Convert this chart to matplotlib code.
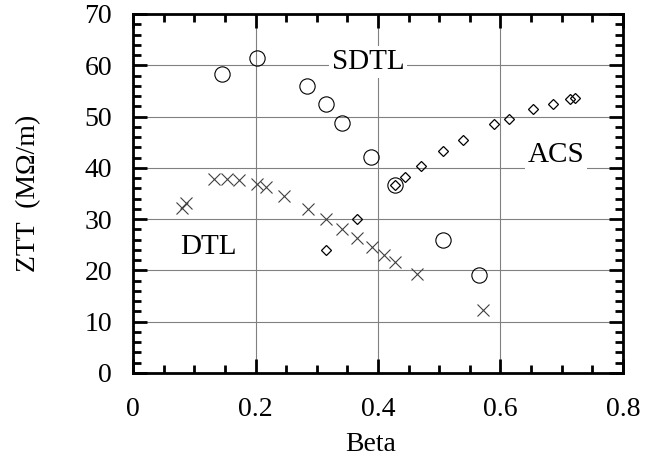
import matplotlib

matplotlib.use("Agg")
import matplotlib.pyplot as plt
from matplotlib.ticker import MultipleLocator

# SDTL (circles)
sdtl_beta = [0.146, 0.203, 0.284, 0.315, 0.341, 0.388, 0.428, 0.506, 0.565]
sdtl_ztt = [58.3, 61.5, 55.9, 52.4, 48.7, 42.2, 36.6, 25.9, 19.1]

# DTL (crosses)
dtl_beta = [0.080, 0.086, 0.133, 0.153, 0.173, 0.202, 0.217, 0.247, 0.286,
            0.315, 0.341, 0.365, 0.390, 0.409, 0.428, 0.463, 0.571]
dtl_ztt = [32.2, 33.2, 37.8, 37.9, 37.7, 36.8, 36.2, 34.5, 31.9,
           30.0, 28.1, 26.3, 24.6, 23.0, 21.7, 19.4, 12.3]

# ACS (diamonds)
acs_beta = [0.315, 0.365, 0.428, 0.444, 0.470, 0.506, 0.538, 0.590,
            0.614, 0.653, 0.685, 0.714, 0.722]
acs_ztt = [24.0, 30.0, 36.6, 38.3, 40.4, 43.3, 45.4, 48.5,
           49.6, 51.4, 52.4, 53.4, 53.7]

x_ticks = [0, 0.2, 0.4, 0.6, 0.8]
x_ticklabels = ["0", "0.2", "0.4", "0.6", "0.8"]

plt.rcParams["font.family"] = ["Liberation Serif", "DejaVu Serif"]

fig = plt.figure(figsize=(6.64, 4.61), dpi=100)
ax = fig.add_axes([133 / 664, 1 - 373 / 461, 490 / 664, 359 / 461])

ax.plot(dtl_beta, dtl_ztt, ls="none", marker="x", ms=8.5, mew=0.8,
        color="#404040", zorder=3)
ax.plot(acs_beta, acs_ztt, ls="none", marker="D", ms=5.5, mew=0.9,
        mfc="none", mec="black", zorder=3)
ax.plot(sdtl_beta, sdtl_ztt, ls="none", marker="o", ms=11, mew=0.8,
        mfc="none", mec="black", zorder=3)

ax.set_xlim(0, 0.8)
ax.set_ylim(0, 70)
ax.set_xticks(x_ticks)
ax.set_xticklabels(x_ticklabels)
ax.xaxis.set_minor_locator(MultipleLocator(0.05))
ax.yaxis.set_major_locator(MultipleLocator(10))
ax.yaxis.set_minor_locator(MultipleLocator(2))

ax.grid(True, which="major", color="#808080", lw=0.8, zorder=0)
ax.set_axisbelow(True)
for sp in ax.spines.values():
    sp.set_linewidth(2.0)
ax.tick_params(which="both", direction="in", top=True, right=True,
               width=2.0, labelsize=20)
ax.tick_params(axis="x", pad=17)
ax.tick_params(axis="y", pad=15)
ax.tick_params(which="major", length=10)
ax.tick_params(which="minor", length=6)

box = dict(facecolor="white", edgecolor="none", pad=2)
ax.text(0.384, 59.3, "SDTL", fontsize=21, ha="center", va="baseline",
        bbox=box, zorder=2)
ax.text(0.691, 41.1, "ACS", fontsize=21, ha="center", va="baseline",
        bbox=box, zorder=2)
ax.text(0.1225, 23.2, "DTL", fontsize=21, ha="center", va="baseline",
        bbox=box, zorder=2)

ax.set_xlabel("Beta", fontsize=20)
ax.xaxis.set_label_coords(0.485, -0.165)
ax.set_ylabel("ZTT  (MΩ/m)", fontsize=20)
ax.yaxis.set_label_coords(-0.214, 0.5)
ax.yaxis.label.set_va("center")

fig.savefig("out.png", dpi=100)
